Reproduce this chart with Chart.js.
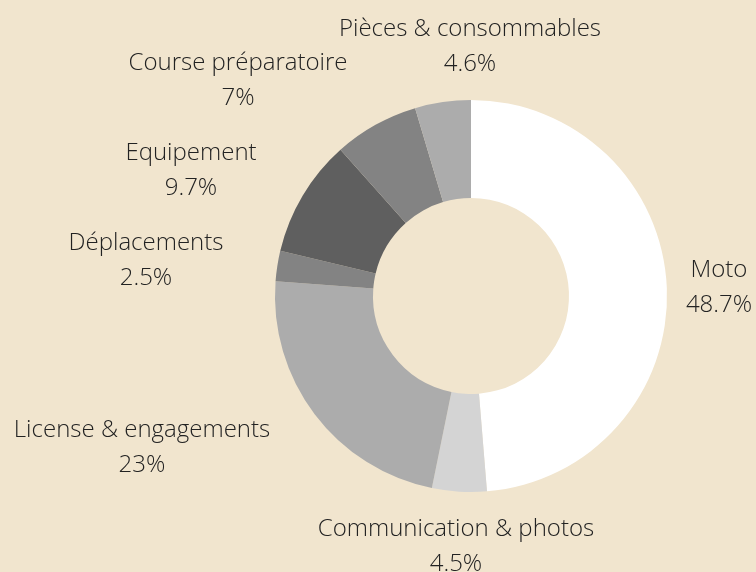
<!DOCTYPE html>
<html>
<head>
<meta charset="utf-8">
<script src="https://cdn.jsdelivr.net/npm/chart.js@4/dist/chart.umd.min.js"></script>
<style>
  html, body { margin: 0; padding: 0; background: #f1e5ce; }
  #wrap { position: relative; width: 756px; height: 572px; }
</style>
</head>
<body>
<div id="wrap"><canvas id="budget"></canvas></div>
<script>
  // ─── Data ──────────────────────────────────────────────────────────────────

  const labels = [
    "Moto",
    "Communication & photos",
    "License & engagements",
    "Déplacements",
    "Equipement",
    "Course préparatoire",
    "Pièces & consommables",
  ];
  const shares = [48.7, 4.5, 23, 2.5, 9.7, 7, 4.6];
  const shareText = ["48.7%", "4.5%", "23%", "2.5%", "9.7%", "7%", "4.6%"];

  // ─── Style ─────────────────────────────────────────────────────────────────

  const colors = ["#ffffff", "#d4d4d4", "#acacac", "#838383", "#5f5f5f", "#838383", "#acacac"];
  // label centres (text only, first line), placed by hand like the original
  const labelPos = [
    [719, 270], [456, 529], [142, 430], [146, 243], [191, 153], [238, 63], [470, 29],
  ];
  const LINE_GAP = 35;

  const outsideLabels = {
    id: "outsideLabels",
    afterDraw(chart) {
      const ctx = chart.ctx;
      ctx.save();
      ctx.fillStyle = "#222222";
      ctx.font = "300 24px 'Open Sans'";
      ctx.textAlign = "center";
      ctx.textBaseline = "middle";
      chart.data.labels.forEach((name, i) => {
        const [x, y] = labelPos[i];
        ctx.fillText(name, x, y);
        ctx.fillText(shareText[i], x, y + LINE_GAP);
      });
      ctx.restore();
    },
  };

  new Chart(document.getElementById("budget"), {
    type: "doughnut",
    data: {
      labels,
      datasets: [
        {
          data: shares,
          backgroundColor: colors,
          borderWidth: 0,
        },
      ],
    },
    options: {
      responsive: true,
      maintainAspectRatio: false,
      animation: false,
      cutout: "50%",
      layout: { padding: { left: 275, right: 89, top: 100, bottom: 80 } },
      plugins: {
        legend: { display: false },
        tooltip: { enabled: false },
      },
    },
    plugins: [outsideLabels],
  });
</script>
</body>
</html>
